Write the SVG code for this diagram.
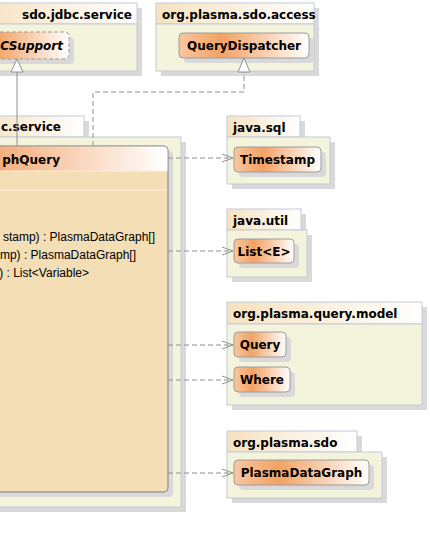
<svg xmlns="http://www.w3.org/2000/svg" width="430" height="549" viewBox="0 0 430 549">
  <defs>
    <linearGradient id="classFill" x1="0" y1="0" x2="1" y2="0">
      <stop offset="0" stop-color="#F8C7A0"/>
      <stop offset="0.33" stop-color="#F2A264"/>
      <stop offset="1" stop-color="#FFFFFF"/>
    </linearGradient>
    <linearGradient id="mainHead" gradientUnits="userSpaceOnUse" x1="-30" y1="0" x2="166" y2="0">
      <stop offset="0" stop-color="#F3A066"/>
      <stop offset="1" stop-color="#FFFFFF"/>
    </linearGradient>
    <linearGradient id="tabFill" x1="0" y1="0" x2="1" y2="0">
      <stop offset="0" stop-color="#F6E2C0"/>
      <stop offset="1" stop-color="#FFFFFF"/>
    </linearGradient>
    <marker id="open" markerUnits="userSpaceOnUse" markerWidth="12" markerHeight="10" refX="11" refY="5" orient="auto">
      <path d="M0,1 L11,5 L0,9" fill="none" stroke="#909090" stroke-width="1"/>
    </marker>
  </defs>
  <style>
    .shadow { fill: #D9D9D9; }
    .tab { fill: url(#tabFill); stroke: #C2CAD9; stroke-width: 1; }
    .body { fill: #F4F3DC; stroke: #C2CAD9; stroke-width: 1; }
    .cls { fill: url(#classFill); stroke: #9C9C9C; stroke-width: 1; }
    .pkgname { font-family: "DejaVu Sans", sans-serif; font-weight: bold; font-size: 12px; fill: #000; }
    .clsname { font-family: "DejaVu Sans", sans-serif; font-weight: bold; font-size: 12px; fill: #000; text-anchor: middle; }
    .op { font-family: "Liberation Sans", Arial, sans-serif; font-size: 12px; fill: #000; text-anchor: end; }
    .dep { fill: none; stroke: #909090; stroke-width: 1; stroke-dasharray: 5 3; }
  </style>

  <!-- package: sdo.jdbc.service -->
  <g id="pkg-jdbc-service">
    <rect class="shadow" x="-15" y="8" width="157" height="68"/>
    <rect class="tab" x="-20" y="3" width="157" height="21"/>
    <rect class="body" x="-20" y="24" width="157" height="47"/>
    <text class="pkgname" x="132" y="19" text-anchor="end">sdo.jdbc.service</text>
  </g>

  <!-- package: org.plasma.sdo.access -->
  <g id="pkg-sdo-access">
    <rect class="shadow" x="161" y="8" width="158" height="68"/>
    <rect class="tab" x="156" y="3" width="158" height="21"/>
    <rect class="body" x="156" y="24" width="158" height="47"/>
    <text class="pkgname" x="162" y="19">org.plasma.sdo.access</text>
  </g>

  <!-- package: ...c.service (main) -->
  <g id="pkg-service">
    <rect class="shadow" x="-15" y="121" width="104" height="21"/>
    <rect class="shadow" x="-15" y="142" width="201" height="370"/>
    <rect class="tab" x="-20" y="116" width="104" height="21"/>
    <rect class="body" x="-20" y="137" width="201" height="370"/>
    <text class="pkgname" x="61" y="131" text-anchor="end">c.service</text>
  </g>

  <!-- package: java.sql -->
  <g id="pkg-java-sql">
    <rect class="shadow" x="232" y="121" width="73" height="21"/>
    <rect class="shadow" x="232" y="142" width="103" height="47"/>
    <rect class="tab" x="227" y="116" width="73" height="21"/>
    <rect class="body" x="227" y="137" width="103" height="47"/>
    <text class="pkgname" x="233" y="132">java.sql</text>
  </g>

  <!-- package: java.util -->
  <g id="pkg-java-util">
    <rect class="shadow" x="232" y="214" width="74" height="21"/>
    <rect class="shadow" x="232" y="235" width="80" height="47"/>
    <rect class="tab" x="227" y="209" width="74" height="21"/>
    <rect class="body" x="227" y="230" width="80" height="47"/>
    <text class="pkgname" x="233" y="225">java.util</text>
  </g>

  <!-- package: org.plasma.query.model -->
  <g id="pkg-query-model">
    <rect class="shadow" x="232" y="307" width="195" height="103"/>
    <rect class="tab" x="227" y="302" width="195" height="22"/>
    <rect class="body" x="227" y="324" width="195" height="81"/>
    <text class="pkgname" x="233" y="318">org.plasma.query.model</text>
  </g>

  <!-- package: org.plasma.sdo -->
  <g id="pkg-plasma-sdo">
    <rect class="shadow" x="232" y="436" width="130" height="21"/>
    <rect class="shadow" x="232" y="457" width="155" height="46"/>
    <rect class="tab" x="227" y="431" width="130" height="21"/>
    <rect class="body" x="227" y="452" width="155" height="46"/>
    <text class="pkgname" x="233" y="447">org.plasma.sdo</text>
  </g>

  <!-- abstract class ...CSupport -->
  <g id="cls-csupport">
    <rect class="shadow" x="-35" y="37" width="109" height="27" rx="4"/>
    <rect class="cls" x="-40" y="32" width="109" height="27" rx="4" stroke-dasharray="4 2"/>
    <text class="clsname" x="63" y="50" font-style="italic" style="text-anchor:end">CSupport</text>
  </g>

  <!-- class QueryDispatcher -->
  <g id="cls-querydispatcher">
    <rect class="shadow" x="184" y="38" width="130" height="25" rx="4"/>
    <rect class="cls" x="179" y="33" width="130" height="25" rx="4"/>
    <text class="clsname" x="244" y="50">QueryDispatcher</text>
  </g>

  <!-- class ...phQuery (main) -->
  <g id="cls-graphquery">
    <rect class="shadow" x="-15" y="151" width="188" height="346" rx="4"/>
    <rect x="-20" y="146" width="188" height="346" rx="4" fill="#F4DEB5" stroke="#9C9C9C"/>
    <path d="M-20,171 V150 Q-20,146 -16,146 H164 Q168,146 168,150 V171 Z" fill="url(#mainHead)"/>
    <line x1="-20" y1="171" x2="167.5" y2="171" stroke="#FBEEDB" stroke-width="1.2"/>
    <line x1="-20" y1="190" x2="167.5" y2="190" stroke="#FBEEDB" stroke-width="1.2"/>
    <rect x="-20" y="146" width="188" height="346" rx="4" fill="none" stroke="#9C9C9C"/>
    <text class="clsname" x="60" y="164" style="text-anchor:end">phQuery</text>
    <text class="op" x="155" y="241">stamp) : PlasmaDataGraph[]</text>
    <text class="op" x="136" y="259">mp) : PlasmaDataGraph[]</text>
    <text class="op" x="89" y="277">) : List&lt;Variable&gt;</text>
  </g>

  <!-- class Timestamp -->
  <g id="cls-timestamp">
    <rect class="shadow" x="239" y="152" width="87" height="25" rx="4"/>
    <rect class="cls" x="234" y="147" width="87" height="25" rx="4"/>
    <text class="clsname" x="277.5" y="164">Timestamp</text>
  </g>

  <!-- class List<E> -->
  <g id="cls-list">
    <rect class="shadow" x="239" y="244" width="60" height="24" rx="4"/>
    <rect class="cls" x="234" y="239" width="60" height="24" rx="4"/>
    <text class="clsname" x="264" y="256">List&lt;E&gt;</text>
  </g>

  <!-- class Query -->
  <g id="cls-query">
    <rect class="shadow" x="239" y="337" width="52" height="25" rx="4"/>
    <rect class="cls" x="234" y="332" width="52" height="25" rx="4"/>
    <text class="clsname" x="260" y="349">Query</text>
  </g>

  <!-- class Where -->
  <g id="cls-where">
    <rect class="shadow" x="239" y="372" width="56" height="25" rx="4"/>
    <rect class="cls" x="234" y="367" width="56" height="25" rx="4"/>
    <text class="clsname" x="262" y="384">Where</text>
  </g>

  <!-- class PlasmaDataGraph -->
  <g id="cls-plasmadatagraph">
    <rect class="shadow" x="239" y="465" width="135" height="25" rx="4"/>
    <rect class="cls" x="234" y="460" width="135" height="25" rx="4"/>
    <text class="clsname" x="301.5" y="477">PlasmaDataGraph</text>
  </g>

  <!-- connectors -->
  <g id="connectors">
    <!-- generalization to CSupport -->
    <line x1="17" y1="72" x2="17" y2="146" stroke="#909090"/>
    <polygon points="17,59 11,72 23,72" fill="#FFFFFF" stroke="#909090"/>
    <!-- realization to QueryDispatcher -->
    <path class="dep" d="M93,146 V92 H244 V72"/>
    <polygon points="244,58 238,72 250,72" fill="#FFFFFF" stroke="#909090"/>
    <!-- dependencies -->
    <line class="dep" x1="168" y1="158" x2="233" y2="158" marker-end="url(#open)"/>
    <line class="dep" x1="168" y1="251" x2="233" y2="251" marker-end="url(#open)"/>
    <line class="dep" x1="168" y1="345" x2="233" y2="345" marker-end="url(#open)"/>
    <line class="dep" x1="168" y1="380" x2="233" y2="380" marker-end="url(#open)"/>
    <line class="dep" x1="168" y1="473" x2="233" y2="473" marker-end="url(#open)"/>
  </g>
</svg>
